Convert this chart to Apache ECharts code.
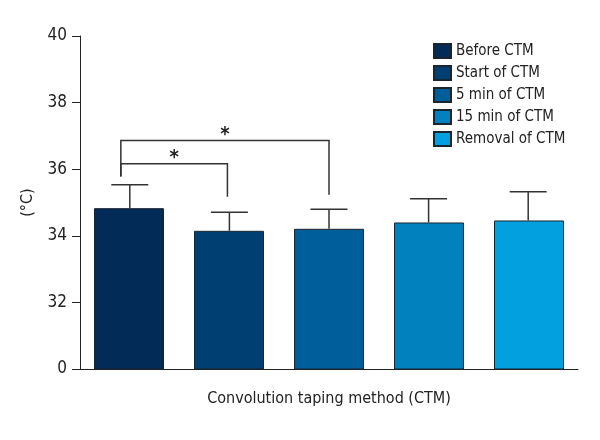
<!DOCTYPE html>
<html>
<head>
<meta charset="utf-8">
<script src="https://cdn.jsdelivr.net/npm/echarts@6/dist/echarts.min.js"></script>
<style>html,body{margin:0;padding:0;background:#fff}#c{width:600px;height:440px}</style>
</head>
<body>
<div id="c"></div>
<script>
const category = ['Convolution taping method (CTM)'];
const seriesNames = ['Before CTM', 'Start of CTM', '5 min of CTM', '15 min of CTM', 'Removal of CTM'];
const means = [34.83, 34.15, 34.21, 34.40, 34.46];
const errTops = [35.53, 34.71, 34.80, 35.11, 35.32];
const colors = ['#022b57', '#003f72', '#005f9a', '#0182be', '#02a0df'];
const yTickValues = [30, 32, 34, 36, 38, 40];
const yTickLabels = ['0', '32', '34', '36', '38', '40'];
// significance brackets: left position, right position (in group units), top, left leg bottom, right leg bottom, label
const brLeft = [0.41, 0.41];
const brRight = [1.48, 2.5];
const brTop = [36.16, 36.86];
const brLeftBottom = [35.78, 35.78];
const brRightBottom = [35.17, 35.23];
const brLabel = ['*', '*'];

const FONT = "'Liberation Sans Narrow', 'DejaVu Sans Condensed', 'Arial Narrow', sans-serif";
const chart = echarts.init(document.getElementById('c'), null, {renderer: 'canvas'});

const barSeries = seriesNames.map((n, i) => ({
  name: n,
  type: 'bar',
  xAxisIndex: 0,
  yAxisIndex: 0,
  barWidth: 70,
  barGap: '42.86%',
  itemStyle: {color: colors[i], borderColor: '#1b2530', borderWidth: 1},
  data: [means[i]],
  z: 2
}));

const errData = means.map((m, i) => [i + 0.5, m, errTops[i]]);
const brData = brLeft.map((l, i) => [l, brRight[i], brTop[i], brLeftBottom[i], brRightBottom[i], brLabel[i]]);

chart.setOption({
  animation: false,
  textStyle: {fontFamily: FONT},
  color: colors,
  legend: {
    orient: 'vertical',
    left: 428,
    top: 38,
    itemWidth: 17,
    itemHeight: 14,
    itemGap: 6,
    icon: 'rect',
    textStyle: {fontFamily: FONT, fontSize: 15, color: '#222', lineHeight: 16, padding: [0, 0, 0, 0]},
    data: seriesNames
  },
  grid: {left: 80, right: 22, top: 36, bottom: 71, containLabel: false},
  xAxis: [{
    type: 'category',
    data: category,
    axisLine: {lineStyle: {color: '#222', width: 1}},
    axisTick: {alignWithLabel: true, length: 5, lineStyle: {color: '#222'}},
    axisLabel: {fontFamily: FONT, fontSize: 16, color: '#222', margin: 22}
  }, {
    type: 'value',
    min: 0, max: 5,
    show: false
  }],
  yAxis: {
    type: 'value',
    min: 30, max: 40, interval: 2,
    name: '(°C)',
    nameLocation: 'middle',
    nameGap: 44,
    nameTextStyle: {fontFamily: FONT, fontSize: 16, color: '#222'},
    axisLine: {show: true, lineStyle: {color: '#222', width: 1}},
    axisTick: {show: true, length: 8, lineStyle: {color: '#222'}},
    axisLabel: {fontFamily: FONT, fontSize: 17, color: '#222', margin: 13,
      formatter: v => yTickLabels[yTickValues.indexOf(v)] ?? ''},
    splitLine: {show: false}
  },
  series: barSeries.concat([{
    type: 'custom',
    name: 'err',
    xAxisIndex: 1,
    yAxisIndex: 0,
    data: errData,
    z: 3,
    silent: true,
    renderItem: (params, api) => {
      const b = api.coord([api.value(0), api.value(1)]);
      const t = api.coord([api.value(0), api.value(2)]);
      const hw = 18.5;
      const st = {stroke: '#333', lineWidth: 1.5, fill: null};
      return {type: 'group', children: [
        {type: 'line', shape: {x1: b[0], y1: b[1], x2: t[0], y2: t[1]}, style: st},
        {type: 'line', shape: {x1: t[0] - hw, y1: t[1], x2: t[0] + hw, y2: t[1]}, style: st}
      ]};
    }
  }, {
    type: 'custom',
    name: 'sig',
    xAxisIndex: 1,
    yAxisIndex: 0,
    data: brData,
    z: 3,
    silent: true,
    renderItem: (params, api) => {
      const lt = api.coord([api.value(0), api.value(2)]);
      const rt = api.coord([api.value(1), api.value(2)]);
      const lb = api.coord([api.value(0), api.value(3)]);
      const rb = api.coord([api.value(1), api.value(4)]);
      const st = {stroke: '#333', lineWidth: 1.5, fill: null};
      return {type: 'group', children: [
        {type: 'polyline', shape: {points: [lb, lt, rt, rb]}, style: st},
        {type: 'text', style: {text: brData[params.dataIndex][5], x: (lt[0] + rt[0]) / 2, y: lt[1] + 4,
          textAlign: 'center', textVerticalAlign: 'bottom', font: 'bold 20px ' + FONT, fill: '#222'}}
      ]};
    }
  }])
});
</script>
</body>
</html>
